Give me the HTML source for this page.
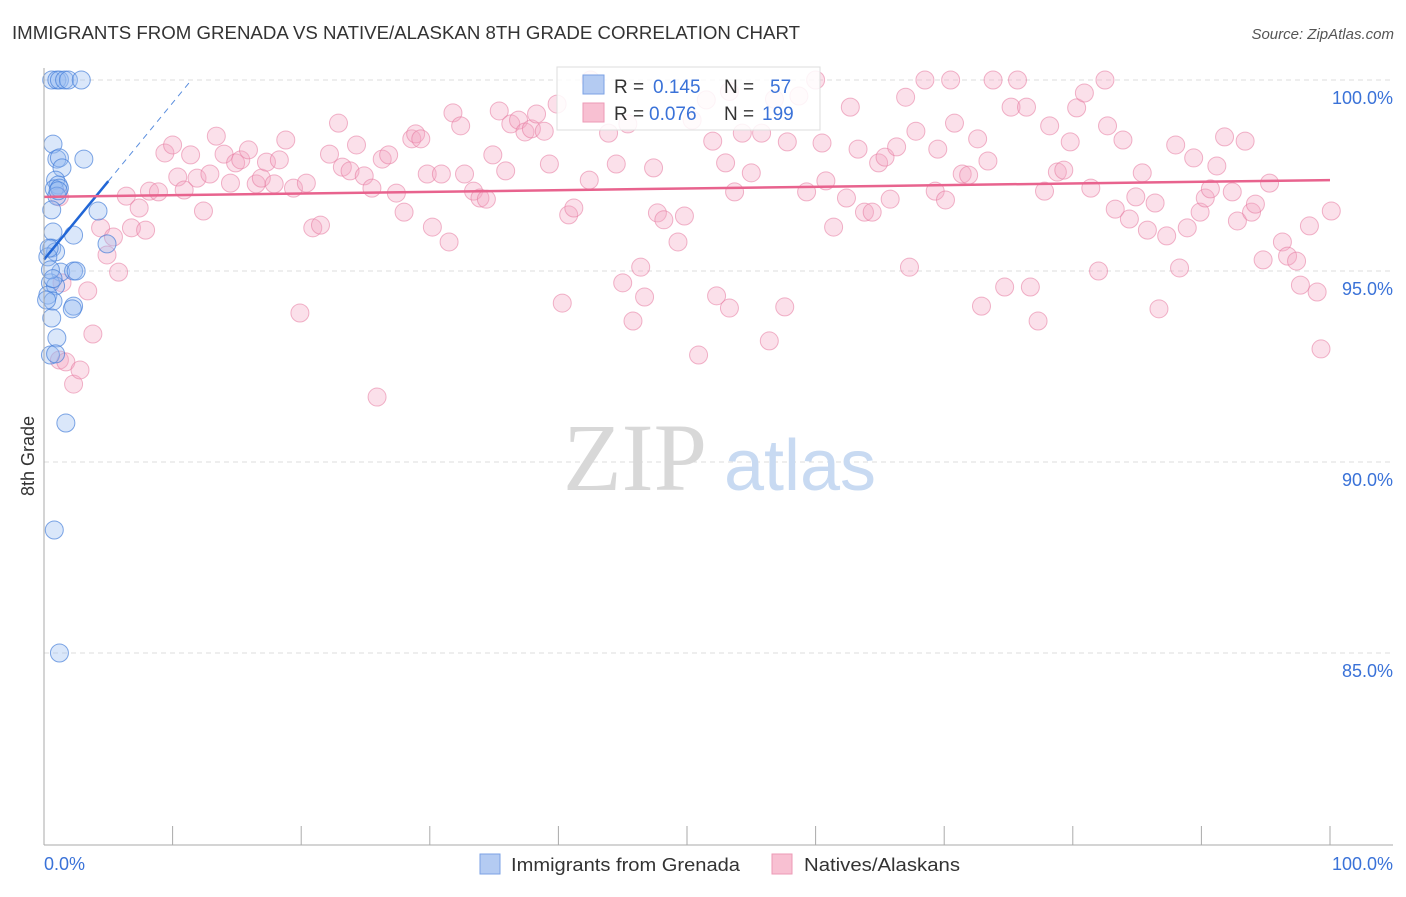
<!DOCTYPE html>
<html><head><meta charset="utf-8">
<style>
body{margin:0;background:#fff;font-family:"Liberation Sans",sans-serif;}
svg text{font-family:"Liberation Sans",sans-serif;}
</style></head>
<body>
<svg id="chart" width="1406" height="892" xmlns="http://www.w3.org/2000/svg">
<text x="12" y="39" font-size="18" fill="#333" textLength="788" lengthAdjust="spacingAndGlyphs">IMMIGRANTS FROM GRENADA VS NATIVE/ALASKAN 8TH GRADE CORRELATION CHART</text>
<text x="1394" y="39" font-size="15" fill="#555" font-style="italic" text-anchor="end">Source: ZipAtlas.com</text>
<g id="grid"></g>
<g>
<text x="635" y="490" font-size="96" fill="#d8d8d8" text-anchor="middle" style="font-family:'Liberation Serif',serif">ZIP</text>
<text x="800" y="490" font-size="72" fill="#c8daf2" text-anchor="middle">atlas</text>
</g>
<g id="pinkPts"></g>
<g id="bluePts"></g>
<g id="lines"></g>
<g id="axes"></g>
<text x="34" y="456" font-size="18" fill="#333" text-anchor="middle" transform="rotate(-90 34 456)">8th Grade</text>
<g>
<rect x="557" y="67" width="263" height="63" fill="#fff" fill-opacity="0.85" stroke="#ddd"/>
<rect x="583" y="75" width="21" height="19" fill="#b4cbf2" stroke="#7ba2e4"/>
<rect x="583" y="103" width="21" height="19" fill="#f8c0d2" stroke="#ec9ab6"/>
<text x="614" y="93" font-size="19" fill="#333">R = </text><text x="653" y="93" font-size="19" fill="#3a72d8">0.145</text>
<text x="724" y="93" font-size="19" fill="#333">N = </text><text x="770" y="93" font-size="19" fill="#3a72d8">57</text>
<text x="614" y="120" font-size="19" fill="#333">R = </text><text x="649" y="120" font-size="19" fill="#3a72d8">0.076</text>
<text x="724" y="120" font-size="19" fill="#333">N = </text><text x="762" y="120" font-size="19" fill="#3a72d8">199</text>
</g>
<g>
<rect x="480" y="854" width="20" height="20" fill="#b4cbf2" stroke="#7ba2e4"/>
<text x="511" y="871" font-size="18" fill="#333" textLength="229" lengthAdjust="spacingAndGlyphs">Immigrants from Grenada</text>
<rect x="772" y="854" width="20" height="20" fill="#f8c0d2" stroke="#ec9ab6"/>
<text x="804" y="871" font-size="18" fill="#333" textLength="156" lengthAdjust="spacingAndGlyphs">Natives/Alaskans</text>
</g>
</svg>
<script>
const xTicks=[0,10,20,30,40,50,60,70,80,90,100];
const yTicks=[100,95,90,85];
const yTickLabels=["100.0%","95.0%","90.0%","85.0%"];
const blueX=[0.6,1.0,1.2,1.6,1.9,2.9,0.7,1.0,1.2,3.1,1.4,0.9,1.1,0.8,1.2,1.0,0.6,4.2,0.7,2.3,0.6,4.9,0.9,0.3,1.3,2.3,2.5,0.5,0.9,0.3,0.7,2.3,2.2,0.6,1.0,0.5,0.9,1.7,0.8,1.2,0.2,0.5,0.4,1.1,0.7];
const blueY=[100,100,100,100,100,100,98.32,97.93,97.96,97.93,97.70,97.38,97.25,97.15,97.17,96.96,96.60,96.57,96.02,95.94,95.60,95.71,95.50,95.37,94.97,95.0,95.0,94.69,94.61,94.37,94.21,94.08,94.01,93.77,93.25,92.80,92.83,91.02,88.22,85.0,94.24,95.03,95.6,97.1,94.8];
const pinkX=[1.2,1.4,1.2,1.7,2.3,2.8,3.4,3.8,4.4,4.9,5.4,5.8,6.4,6.8,7.4,7.9,8.2,8.9,9.4,10.0,10.4,10.9,11.4,11.9,12.4,12.9,13.4,14.0,14.5,14.9,15.3,15.9,16.5,16.9,17.3,17.9,18.3,18.8,19.4,19.9,20.4,20.9,21.5,22.2,22.9,23.2,23.8,24.3,24.9,25.5,25.9,26.3,26.8,27.4,28.0,28.6,28.9,29.3,29.8,30.2,30.9,31.5,31.8,32.4,32.7,33.4,33.9,34.4,34.9,35.4,35.9,36.3,36.9,37.4,37.9,38.3,38.9,39.3,39.9,40.3,40.8,41.2,42.4,43.9,44.5,45.0,45.4,45.8,46.4,46.7,47.4,47.7,48.2,49.3,49.8,50.4,50.9,51.5,52.0,52.3,53.0,53.3,53.7,54.3,55.0,55.8,56.4,56.8,57.6,57.8,58.7,59.3,60.0,60.5,60.8,61.4,62.4,62.7,63.3,63.8,64.4,64.9,65.4,65.8,66.3,67.0,67.3,67.8,68.5,69.3,69.5,70.1,70.5,70.8,71.4,71.9,72.6,72.9,73.4,73.8,74.7,75.2,75.7,76.4,76.7,77.3,77.8,78.2,78.8,79.3,79.8,80.3,80.9,81.4,82.0,82.5,82.7,83.3,83.9,84.4,84.9,85.4,85.8,86.4,86.7,87.3,88.0,88.3,88.9,89.4,89.9,90.3,90.7,91.2,91.8,92.4,92.8,93.4,93.9,94.2,94.8,95.3,96.3,96.7,97.4,97.7,98.4,99.0,99.3,100.1,42.5,53.3];
const pinkY=[96.94,94.69,92.67,92.62,92.04,92.41,94.48,93.35,96.13,95.42,95.89,94.97,96.96,96.13,96.65,96.07,97.09,97.07,98.09,98.30,97.46,97.12,98.04,97.43,96.57,97.54,98.53,98.06,97.30,97.83,97.91,98.17,97.28,97.43,97.85,97.28,97.91,98.43,97.17,93.90,97.30,96.13,96.20,98.06,98.87,97.72,97.62,98.30,97.49,97.17,91.70,97.93,98.04,97.04,96.54,98.46,98.59,98.46,97.54,96.15,97.54,95.76,99.14,98.80,97.54,97.09,96.91,96.88,98.04,99.19,97.62,98.85,98.95,98.64,98.72,99.11,98.66,97.80,99.37,94.16,96.47,96.65,97.38,98.61,97.80,94.69,98.85,93.69,95.10,94.32,97.70,96.52,96.34,95.76,96.44,98.95,92.80,99.48,98.40,94.35,97.83,94.03,97.07,98.61,97.57,98.61,93.17,99.50,94.06,98.38,99.58,97.07,100.0,98.35,97.36,96.15,96.91,99.29,98.19,96.54,96.54,97.83,97.98,96.88,98.25,99.55,95.10,98.66,100.0,97.09,98.19,96.86,100.0,98.87,97.54,97.51,98.46,94.08,97.88,100.0,94.58,99.29,100.0,99.29,94.58,93.69,97.09,98.80,97.59,97.64,98.38,99.27,99.66,97.17,95.0,100.0,98.80,96.62,98.43,96.36,96.94,97.57,96.07,96.78,94.01,95.92,98.30,95.08,96.13,97.96,96.54,96.91,97.15,97.75,98.51,97.07,96.31,98.40,96.54,96.75,95.29,97.30,95.76,95.39,95.26,94.63,96.18,94.45,92.96,96.57,100.0,99.7];
const blueTrend=[95.3,0.41];
const pinkTrend=[96.94,0.0044];
const NS="http://www.w3.org/2000/svg";
const X=v=>44+v*12.86;
const Y=v=>80+(100-v)*38.2;
function mk(tag,attrs,parent){const e=document.createElementNS(NS,tag);for(const k in attrs)e.setAttribute(k,attrs[k]);parent.appendChild(e);return e;}
const grid=document.getElementById('grid');
yTicks.forEach((t,i)=>{
 const l=mk('line',{x1:44,x2:1393,y1:Y(t),y2:Y(t),stroke:'#ddd','stroke-dasharray':'5,4'},grid);
 
 
 const tx=mk('text',{x:1393,y:Y(t)+24,'font-size':18,fill:'#3a72d8','text-anchor':'end'},grid);
 tx.textContent=yTickLabels[i];
 
 
});
const axes=document.getElementById('axes');
const ya=mk('line',{x1:44,x2:44,y1:68,y2:845,stroke:'#aaa'},axes);


const xa=mk('line',{x1:44,x2:1393,y1:845,y2:845,stroke:'#aaa'},axes);


xTicks.forEach(t=>{
 const tk=mk('line',{x1:X(t),x2:X(t),y1:826,y2:845,stroke:'#aaa'},axes);
 
 
});
const xl0=mk('text',{x:44,y:870,'font-size':18,fill:'#3a72d8'},axes);xl0.textContent='0.0%';


const xl1=mk('text',{x:1393,y:870,'font-size':18,fill:'#3a72d8','text-anchor':'end'},axes);xl1.textContent='100.0%';


const pg=document.getElementById('pinkPts');
pinkX.forEach((x,i)=>{
 const c=mk('circle',{cx:X(x),cy:Y(pinkY[i]),r:9,fill:'rgba(244,166,194,0.35)',stroke:'rgba(230,120,158,0.55)','stroke-width':1},pg);
 
 
});
const bg=document.getElementById('bluePts');
blueX.forEach((x,i)=>{
 const c=mk('circle',{cx:X(x),cy:Y(blueY[i]),r:9,fill:'rgba(150,185,240,0.35)',stroke:'rgba(60,120,215,0.65)','stroke-width':1},bg);
 
 
});
const lg=document.getElementById('lines');
const bf=v=>blueTrend[0]+blueTrend[1]*v;
const pf=v=>pinkTrend[0]+pinkTrend[1]*v;
const xEnd=(100-blueTrend[0])/blueTrend[1];
const bd=mk('line',{x1:X(5),y1:Y(bf(5)),x2:X(xEnd),y2:Y(100),stroke:'#5a8ede','stroke-width':1,'stroke-dasharray':'6,5'},lg);


const bl=mk('line',{x1:X(0),y1:Y(bf(0)),x2:X(5),y2:Y(bf(5)),stroke:'#2166d6','stroke-width':2.5},lg);


const pl=mk('line',{x1:X(0),y1:Y(pf(0)),x2:X(100),y2:Y(pf(100)),stroke:'#e8638e','stroke-width':2.5},lg);


</script>
</body></html>
